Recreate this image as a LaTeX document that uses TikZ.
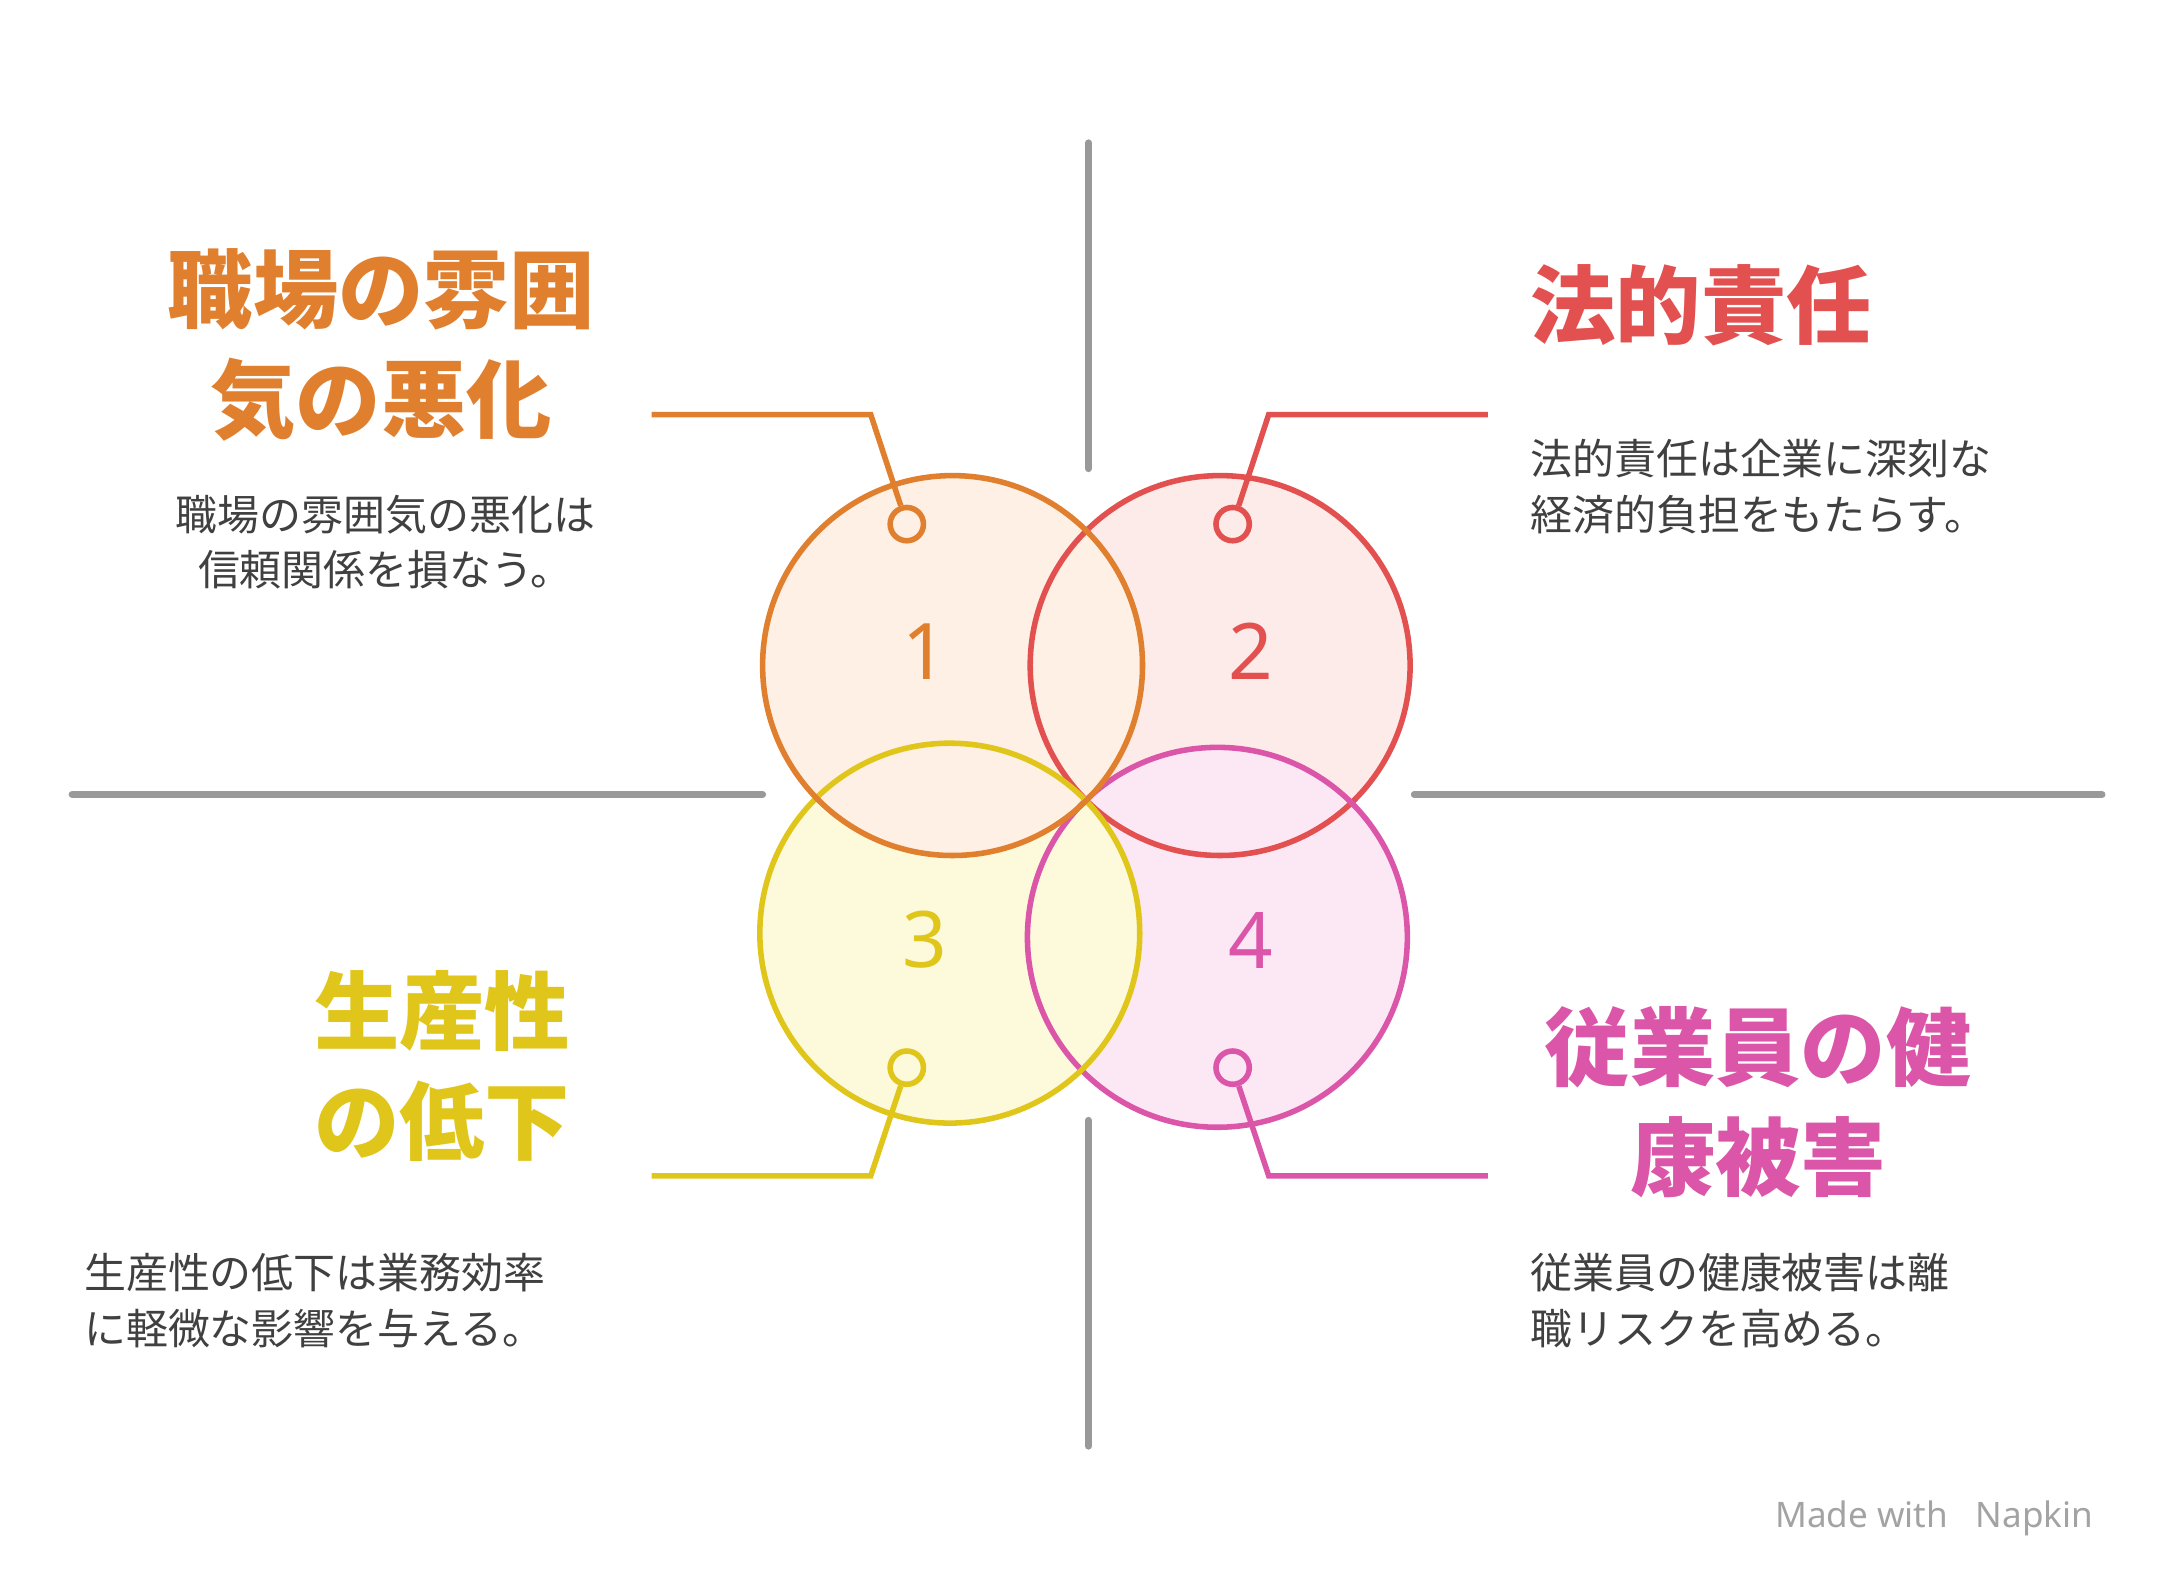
\documentclass[tikz,border=0pt]{standalone}
\usepackage{fontspec}
\setmainfont{Noto Sans}
\newfontfamily\jp{Noto Sans CJK JP}
\definecolor{OrangeC}{HTML}{E07F2E}
\definecolor{OrangeF}{HTML}{FEF0E4}
\definecolor{RedC}{HTML}{E35050}
\definecolor{RedF}{HTML}{FDEBE9}
\definecolor{YellowC}{HTML}{E0C51A}
\definecolor{YellowF}{HTML}{FDF9DB}
\definecolor{PinkC}{HTML}{DB55A8}
\definecolor{PinkF}{HTML}{FCE8F5}
\definecolor{AxisGray}{HTML}{999999}
\definecolor{TextGray}{HTML}{404040}
\usetikzlibrary{positioning,calc}

\begin{document}
\begin{tikzpicture}[
    x=0.01cm, y=-0.01cm,
    axis/.style={AxisGray, line width=0.5mm, line cap=round},
    ring/.style={line width=0.4mm},
    lead/.style={line width=0.4mm},
    dot/.style={circle, draw, line width=0.4mm, minimum size=0.24cm, inner sep=0pt},
    num/.style={font=\fontsize{16}{16}\selectfont\bfseries},
    title/.style={font=\jp\fontsize{17.5}{22.5}\selectfont\bfseries, inner sep=0pt},
    desc/.style={font=\jp\fontsize{8.6}{11.3}\selectfont, text=TextGray, inner sep=0pt}
]
\useasboundingbox (0,0) rectangle (1560,1142);

% axes
\draw[axis] (785,103) -- (785,338);
\draw[axis] (785,808) -- (785,1043);
\draw[axis] (52,573) -- (550,573);
\draw[axis] (1020,573) -- (1516,573);

% circles: fills first, then borders
\fill[RedF] (880,480) circle (137);
\fill[PinkF] (878,676) circle (137);
\fill[YellowF] (685,673) circle (137);
\fill[OrangeF] (687,480) circle (137);
\draw[ring, RedC] (880,480) circle (137);
\draw[ring, PinkC] (878,676) circle (137);
\draw[ring, YellowC] (685,673) circle (137);
\draw[ring, OrangeC] (687,480) circle (137);

\node[num, text=OrangeC] (n1) at (667,470) {1};
\node[num, text=RedC] (n2) at (902,470) {2};
\node[num, text=YellowC] (n3) at (667,678) {3};
\node[num, text=PinkC] (n4) at (902,678) {4};

% leaders
\node[dot, draw=OrangeC, fill=OrangeF] (d1) at (654,378) {};
\node[dot, draw=RedC, fill=RedF] (d2) at (889,378) {};
\node[dot, draw=YellowC, fill=YellowF] (d3) at (654,770) {};
\node[dot, draw=PinkC, fill=PinkF] (d4) at (889,770) {};
\coordinate (e1) at (470,299);
\coordinate (e2) at (1073,299);
\coordinate (e3) at (470,848);
\coordinate (e4) at (1073,848);
\draw[lead, OrangeC] (e1) -- (628,299) -- (d1);
\draw[lead, RedC] (e2) -- (915,299) -- (d2);
\draw[lead, YellowC] (e3) -- (628,848) -- (d3);
\draw[lead, PinkC] (e4) -- (915,848) -- (d4);

% titles
\node[title, text=OrangeC, align=center] (t1) at (275,249) {職場の雰囲\\気の悪化};
\node[title, text=RedC, anchor=west] (t2) at (1103,220) {法的責任};
\node[title, text=YellowC, align=right, anchor=east] (t3) at (412,769) {生産性\\の低下};
\node[title, text=PinkC, align=center] (t4) at (1268,795) {従業員の健\\康被害};

% descriptions
\node[desc, align=center] (s1) at (278,391) {職場の雰囲気の悪化は\\信頼関係を損なう。};
\node[desc, align=left, anchor=west] (s2) at (1103,351) {法的責任は企業に深刻な\\経済的負担をもたらす。};
\node[desc, align=left, anchor=west] (s3) at (60,938) {生産性の低下は業務効率\\に軽微な影響を与える。};
\node[desc, align=left, anchor=west] (s4) at (1103,938) {従業員の健康被害は離\\職リスクを高める。};

\node[font=\fontsize{7.2}{8}\selectfont, text=AxisGray!90, anchor=east] (mark) at (1522,1095) {Made with \ \ Napkin};
\end{tikzpicture}
\end{document}
